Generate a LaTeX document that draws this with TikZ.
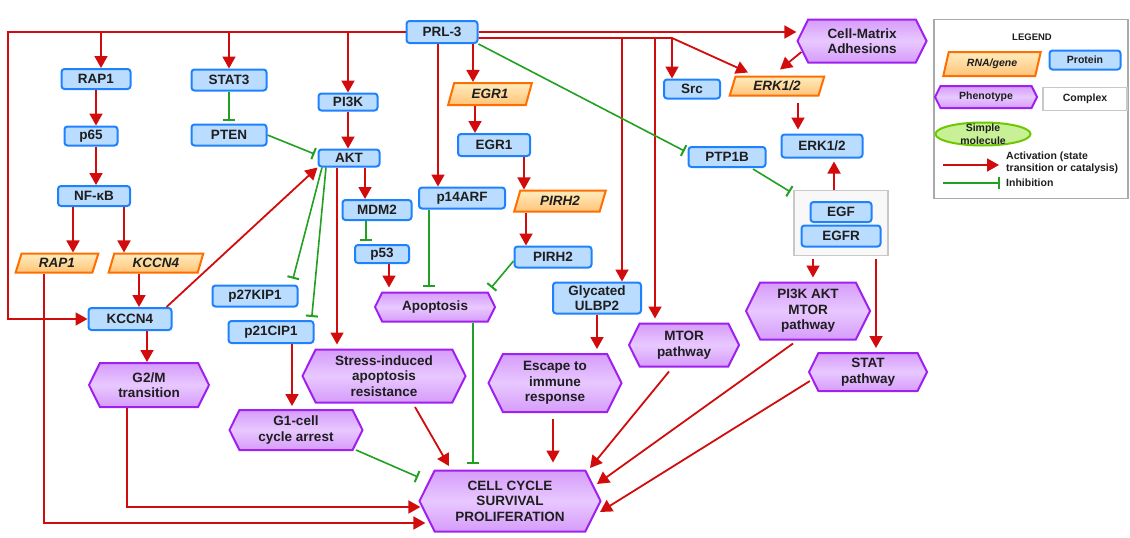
\documentclass[tikz,border=0pt]{standalone}
\usepackage{fontspec}
\setmainfont{Liberation Sans}
\usetikzlibrary{arrows.meta,shapes.geometric,shapes.symbols,calc}
\definecolor{actred}{RGB}{210,12,12}
\definecolor{inhgreen}{RGB}{34,160,34}
\definecolor{protfill}{RGB}{186,220,255}
\definecolor{protdraw}{RGB}{30,130,255}
\definecolor{genedraw}{RGB}{255,110,0}
\definecolor{genetop}{RGB}{255,236,190}
\definecolor{genebot}{RGB}{255,196,120}
\definecolor{phendraw}{RGB}{160,32,240}
\definecolor{phenedge}{RGB}{214,156,250}
\definecolor{phenmid}{RGB}{232,200,255}
\definecolor{txt}{RGB}{30,30,30}
\definecolor{cplxdraw}{RGB}{200,200,200}
\definecolor{cplxfill}{RGB}{248,248,248}
\definecolor{legdraw}{RGB}{170,170,170}
\definecolor{smdraw}{RGB}{110,200,0}
\definecolor{smfill}{RGB}{200,240,150}
\tikzset{
  wh/.style 2 args={minimum width=#1pt, minimum height=#2pt},
  lbl/.style={font=\fontsize{13.5}{15.5}\selectfont\bfseries, text=txt, align=center, inner sep=0pt},
  prot/.style={lbl, rectangle, rounded corners=3pt, draw=protdraw, fill=protfill, line width=2pt},
  gene/.style={lbl, font=\fontsize{13.5}{15.5}\selectfont\bfseries\itshape, trapezium, trapezium left angle=72, trapezium right angle=108, trapezium stretches=true, draw=genedraw, top color=genetop, bottom color=genebot, line width=2pt},
  pheno/.style={lbl, signal, signal to=east and west, signal pointer angle=127, draw=phendraw, top color=phenedge, bottom color=phenedge, middle color=phenmid, line width=2pt},
  cplx/.style={rectangle, draw=cplxdraw, fill=cplxfill, line width=1.5pt, inner sep=0pt},
  act/.style={draw=actred, line width=1.8pt, -{Triangle[length=12pt,width=13pt]}},
  inh/.style={draw=inhgreen, line width=1.6pt, -{Bar[width=12pt,line width=2pt]}},
  legfont/.style={font=\fontsize{10.5}{11.5}\selectfont\bfseries},
}
\begin{document}
\begin{tikzpicture}[x=1pt,y=-1pt]
\fill[white] (0,0) rectangle (1130,538);
\useasboundingbox (0,0) rectangle (1130,538);
% proteins
\node[prot, wh={71}{22}] (PRL3) at (442,32) {PRL-3};
\node[prot, wh={69}{20}] (RAP1p) at (96,79) {RAP1};
\node[prot, wh={75}{21}] (STAT3) at (229,80) {STAT3};
\node[prot, wh={59}{17}] (PI3K) at (348,102) {PI3K};
\node[prot, wh={75}{21}] (PTEN) at (229,135) {PTEN};
\node[prot, wh={53}{19}] (p65) at (91,136) {p65};
\node[prot, wh={61}{17}] (AKT) at (349,158) {AKT};
\node[prot, wh={72}{20}] (NFkB) at (94,196) {NF-κB};
\node[prot, wh={83}{22}] (KCCN4p) at (130,319) {KCCN4};
\node[prot, wh={85}{21}] (p27) at (255,296) {p27KIP1};
\node[prot, wh={85}{22}] (p21) at (271,332) {p21CIP1};
\node[prot, wh={69}{20}] (MDM2) at (377,210) {MDM2};
\node[prot, wh={54}{18}] (p53) at (382,254) {p53};
\node[prot, wh={72}{22}] (EGR1p) at (494,145) {EGR1};
\node[prot, wh={86}{21}] (p14ARF) at (462,198) {p14ARF};
\node[prot, wh={77}{21}] (PIRH2p) at (553,257) {PIRH2};
\node[prot, wh={88}{31}] (ULBP2) at (597,298) {Glycated\\ULBP2};
\node[prot, wh={56}{19}] (Src) at (692,89) {Src};
\node[prot, wh={81}{23}] (ERK12p) at (822,146) {ERK1/2};
\node[prot, wh={77}{20}] (PTP1B) at (727,157) {PTP1B};
\node[cplx, wh={94}{65}] (Complex) at (841,223) {};
\node[prot, wh={61}{20}] (EGF) at (841,212) {EGF};
\node[prot, wh={79}{21}] (EGFR) at (841,236) {EGFR};
% genes
\node[gene, wh={83}{19}] (RAP1g) at (57,263) {RAP1};
\node[gene, wh={95}{19}] (KCCN4g) at (156,263) {KCCN4};
\node[gene, wh={84}{22}] (EGR1g) at (490,94) {EGR1};
\node[gene, wh={92}{21}] (PIRH2g) at (560,201) {PIRH2};
\node[gene, wh={95}{19}] (ERK12g) at (777,86) {ERK1/2};
% phenotypes
\node[pheno, wh={129}{43}] (CellMatrix) at (862,41) {Cell-Matrix\\Adhesions};
\node[pheno, wh={120}{44}] (G2M) at (149,385) {G2/M\\transition};
\node[pheno, wh={163}{53}] (Stress) at (384,376) {Stress-induced\\apoptosis\\resistance};
\node[pheno, wh={133}{40}] (G1) at (296,430) {G1-cell\\cycle arrest};
\node[pheno, wh={120}{29}] (Apoptosis) at (435,307) {Apoptosis};
\node[pheno, wh={133}{58}] (Escape) at (555,383) {Escape to\\immune\\response};
\node[pheno, wh={110}{43}] (MTOR) at (684,345) {MTOR\\pathway};
\node[pheno, wh={124}{57}] (PAM) at (808,311) {PI3K AKT\\MTOR\\pathway};
\node[pheno, wh={118}{38}] (STATp) at (868,372) {STAT\\pathway};
\node[pheno, wh={181}{61}] (CCSP) at (510,501) {CELL CYCLE\\SURVIVAL\\PROLIFERATION};
% legend
\node[rectangle, draw=legdraw, line width=1.5pt, fill=white, wh={194}{179}] (legend) at (1031,109) {};
\node[font=\fontsize{9.5}{11}\selectfont\bfseries, text=txt] (legtitle) at (1032,37) {LEGEND};
\node[gene, legfont, font=\fontsize{10.5}{11.5}\selectfont\bfseries\itshape, wh={98}{24}] (lgene) at (992,64) {RNA/gene};
\node[prot, legfont, wh={71}{19}] (lprot) at (1085,60) {Protein};
\node[pheno, legfont, wh={102}{22}] (lpheno) at (986,97) {Phenotype};
\node[cplx, fill=white, legfont, text=txt, wh={84}{23}] (lcplx) at (1085,99) {Complex};
\node[ellipse, draw=smdraw, line width=2pt, fill=smfill, wh={95}{23}] (lsm) at (983,134) {};
\node[legfont, text=txt, align=center, inner sep=0pt, font=\fontsize{10.5}{13.5}\selectfont\bfseries] (lsmtext) at (983,134) {Simple\\molecule};
\coordinate (la1) at (943,165);
\coordinate (la2) at (999,165);
\coordinate (li1) at (943,183);
\coordinate (li2) at (1000,183);
\draw[act] (la1) -- (la2);
\draw[inh] (li1) -- (li2);
\node[legfont, text=txt, align=left, anchor=west, inner sep=0pt] (latext) at (1006,163) {Activation (state\\transition or catalysis)};
\node[legfont, text=txt, anchor=west, inner sep=0pt] (litext) at (1006,183) {Inhibition};
% PRL-3 connectors
\coordinate (tl) at (8,32);
\coordinate (j1) at (672,38);
\coordinate (j2) at (622,38);
\coordinate (j3) at (655,38);
\draw[act] (PRL3.west) -- (tl) |- (KCCN4p.west);
\draw[act] ($(RAP1p.north |- tl)+(5,0)$) coordinate (s) -- (s |- RAP1p.north);
\draw[act] (STAT3.north |- tl) -- (STAT3.north);
\draw[act] (PI3K.north |- tl) -- (PI3K.north);
\draw[act] (PRL3.east) -- (PRL3.east -| CellMatrix.west);
\draw[act] ($(PRL3.east)+(0,6)$) -- (j1) -- ($(ERK12g.north)+(-29,-3)$);
\draw[act] (j1) -- (j1 |- Src.north);
\draw[act] (j2) -- (j2 |- ULBP2.north);
\draw[act, shorten >=4pt] (j3) -- (j3 |- MTOR.north);
\draw[act] ($(PRL3.south)+(-4,0)$) coordinate (s) -- (s |- p14ARF.north);
\draw[act] ($(PRL3.south)+(31,0)$) coordinate (s) -- (s |- EGR1g.north);
\draw[inh] (PRL3.south east) -- ($(PTP1B.west)+(-3,-6)$);
% left column
\draw[act] (RAP1p.south) -- (RAP1p.south |- p65.north);
\draw[act] (p65.south -| RAP1p.south) -- (RAP1p.south |- NFkB.north);
\draw[act] ($(NFkB.south)+(-21,0)$) coordinate (s) -- (s |- RAP1g.north);
\draw[act] ($(NFkB.south)+(30,0)$) coordinate (s) -- (s |- KCCN4g.north);
\draw[act] ($(KCCN4g.south)+(-17,0)$) coordinate (s) -- (s |- KCCN4p.north);
\draw[act] ($(KCCN4p.north east)+(-6,0)$) -- (AKT.south west);
\draw[act] ($(KCCN4p.south)+(17,0)$) coordinate (s) -- (s |- G2M.north);
\draw[act] ($(RAP1g.south)+(-13,0)$) |- ($(CCSP.west)+(7,22)$);
\draw[act] ($(G2M.south)+(-22,0)$) |- ($(CCSP.west)+(2,6)$);
% AKT block
\draw[inh, shorten >=3pt] (STAT3.south) -- (PTEN.north);
\draw[inh] (PTEN.east) -- ($(AKT.west)+(-3,-4)$);
\draw[act] (PI3K.south) -- (PI3K.south |- AKT.north);
\draw[act] ($(AKT.south)+(16,0)$) coordinate (s) -- (s |- MDM2.north);
\draw[act, shorten >=4pt] ($(AKT.south)+(-12,0)$) coordinate (s) -- (s |- Stress.north);
\draw[inh, shorten >=6pt] ($(AKT.south)+(-27,0)$) -- ($(p27.north east)+(-7,0)$);
\draw[inh, shorten >=3pt] ($(AKT.south)+(-23,0)$) -- ($(p21.north east)+(-3,0)$);
\draw[inh, shorten >=3pt] ($(MDM2.south)+(-11,0)$) coordinate (s) -- (s |- p53.north);
\draw[act, shorten >=4pt] ($(p53.south)+(7,0)$) coordinate (s) -- (s |- Apoptosis.north);
\draw[act, shorten >=3pt] ($(p21.south)+(21,0)$) coordinate (s) -- (s |- G1.north);
\draw[inh, shorten >=5pt] ($(p14ARF.south)+(-33,0)$) coordinate (s) -- (s |- Apoptosis.north);
% EGR1 / PIRH2
\draw[act] ($(EGR1g.south)+(-15,0)$) coordinate (s) -- (s |- EGR1p.north);
\draw[act] ($(EGR1p.south)+(30,0)$) coordinate (s) -- (s |- PIRH2g.north);
\draw[act] ($(PIRH2g.south)+(-34,0)$) coordinate (s) -- (s |- PIRH2p.north);
\draw[inh, shorten >=5pt] ($(PIRH2p.west)+(0,4)$) -- ($(Apoptosis.north)+(53,0)$);
% to CELL CYCLE
\draw[inh, shorten >=6pt] ($(Apoptosis.south)+(38,0)$) coordinate (s) -- (s |- CCSP.north);
\draw[act, shorten <=4pt, shorten >=4pt] ($(Stress.south)+(29,0)$) -- ($(CCSP.north)+(-59,0)$);
\draw[inh] ($(G1.south)+(60,-1)$) -- ($(CCSP.center)+(-92,-24)$);
\draw[act, shorten >=4pt] (ULBP2.south) -- (ULBP2.south |- Escape.north);
\draw[act, shorten <=6pt, shorten >=7pt] ($(Escape.south)+(-2,0)$) coordinate (s) -- (s |- CCSP.north);
\draw[act] ($(MTOR.south)+(-15,4)$) -- ($(CCSP.center)+(80,-33)$);
\draw[act] ($(PAM.south)+(-15,3)$) -- ($(CCSP.center)+(87,-17)$);
\draw[act] ($(STATp.west)+(2,9)$) -- ($(CCSP.center)+(90,11)$);
% EGF complex and ERK
\draw[act, shorten <=3pt, shorten >=4pt] ($(Complex.south)+(-28,0)$) coordinate (s) -- (s |- PAM.north);
\draw[act, shorten <=3pt, shorten >=4pt] ($(Complex.south)+(35,0)$) coordinate (s) -- (s |- STATp.north);
\draw[act, shorten >=3pt] ($(Complex.north)+(-7,0)$) coordinate (s) -- (s |- ERK12p.south);
\draw[act, shorten <=6pt, shorten >=4pt] ($(ERK12g.south)+(21,0)$) coordinate (s) -- (s |- ERK12p.north);
\draw[act] ($(CellMatrix.west)+(5,11)$) -- ($(ERK12g.north)+(3,-6)$);
\draw[inh] ($(PTP1B.south)+(26,1)$) -- ($(Complex.north west)+(-3,2)$);
\end{tikzpicture}
\end{document}
